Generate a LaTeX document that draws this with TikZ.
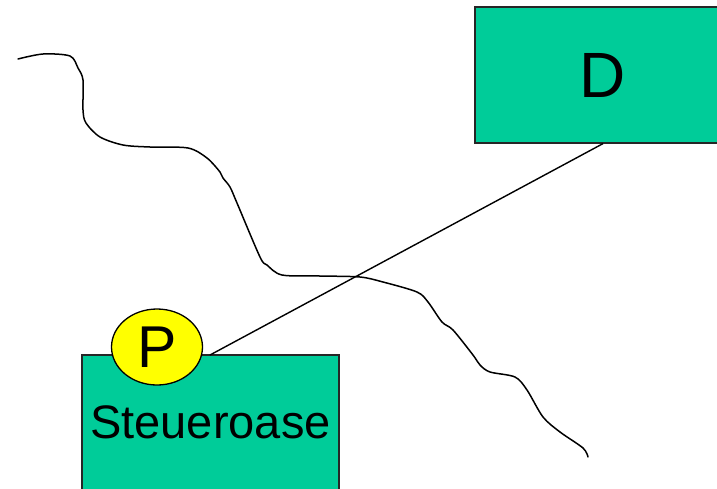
\documentclass[tikz,border=0pt]{standalone}
\usepackage{fontspec}
\setmainfont{Liberation Sans}
\usetikzlibrary{shapes.geometric}
\definecolor{boxgreen}{HTML}{00CC99}
\definecolor{pyellow}{HTML}{FFFF00}
\tikzset{
  box/.style={rectangle, draw=black!85, line width=1.2pt, fill=boxgreen, inner sep=0pt},
  pnode/.style={ellipse, draw=black, line width=1.3pt, fill=pyellow, inner sep=0pt,
    minimum width=91pt, minimum height=76pt},
  wire/.style={draw=black, line width=1.4pt},
  river/.style={draw=black, line width=1.5pt, line join=round, line cap=round}
}
\begin{document}
\begin{tikzpicture}[x=1pt,y=-1pt]
\useasboundingbox (0,0) rectangle (717,488);
\clip (0,0) rectangle (717,488);
\draw[river] plot[smooth, tension=0.5] coordinates {
 (18,59) (43,54) (70,56) (78,68) (83,80) (83,110) (86,123) (100,137) (123,145)
 (150,147) (188,148) (207,158) (220,172) (223,178) (230,187) (237,203) (260,257)
 (267,265) (282,275) (320,276) (360,277) (383,282) (417,292) (428,302) (442,322)
 (453,330) (473,355) (480,365) (490,372) (515,377) (527,390) (543,417) (560,432)
 (583,448) (588,457)};
\node[box, minimum width=256pt, minimum height=136pt,
  font=\fontsize{64}{64}\selectfont] (D) at (603,75) {D};
\node[box, minimum width=257pt, minimum height=150pt, text depth=16pt,
  font=\fontsize{47}{47}\selectfont] (steuer) at (210.5,430) {Steueroase};
\coordinate (pe) at (210,355);
\draw[wire] (D.south) -- (pe);
\node[pnode, font=\fontsize{59}{59}\selectfont] (P) at (157,347) {P};
\end{tikzpicture}
\end{document}
